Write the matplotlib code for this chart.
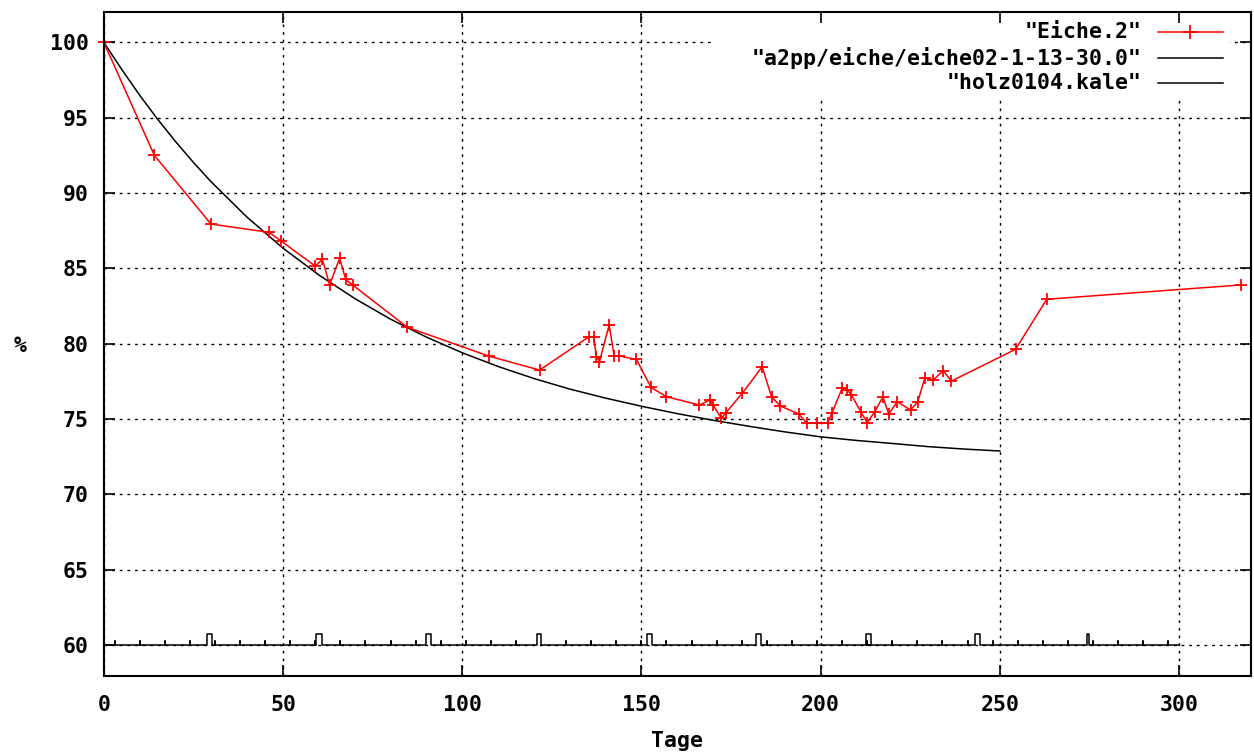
import matplotlib
matplotlib.use("Agg")
import matplotlib.pyplot as plt
from matplotlib.patches import Rectangle
from matplotlib.lines import Line2D

# ---------------- data ----------------
eiche_days = [0, 14.1, 29.9, 46.1, 49.5, 59.0, 61.0, 63.0, 65.8, 67.5, 69.4, 84.7,
              107.4, 121.6, 135.3, 136.7, 137.4, 138.3, 141.0, 142.4, 143.8, 148.6,
              152.7, 157.0, 166.2, 169.1, 170.0, 172.3, 173.5, 178.1, 183.7, 186.3,
              188.8, 193.9, 196.2, 199.0, 202.0, 203.2, 206.0, 207.4, 208.6, 211.3,
              213.0, 215.1, 217.4, 219.0, 221.4, 225.1, 227.1, 229.1, 231.4, 234.2,
              236.5, 254.4, 263.1, 317.4]
eiche_vals = [100.0, 92.5, 87.94, 87.39, 86.81, 85.15, 85.6, 83.9, 85.67, 84.27, 83.9, 81.09,
              79.18, 78.25, 80.45, 80.45, 79.14, 78.81, 81.24, 79.18, 79.18, 78.96,
              77.1, 76.48, 75.93, 76.27, 75.93, 75.05, 75.4, 76.7, 78.47, 76.48,
              75.86, 75.34, 74.72, 74.72, 74.76, 75.42, 77.04, 76.93, 76.6, 75.45,
              74.76, 75.49, 76.48, 75.34, 76.15, 75.6, 76.15, 77.74, 77.59, 78.21,
              77.52, 79.63, 82.95, 83.9]

a2pp_days = [0, 5, 10, 15, 20, 25, 30, 40, 50, 60, 70, 80, 90, 100, 110, 120, 130,
             140, 150, 160, 170, 180, 190, 200, 210, 220, 230, 240, 250]
a2pp_vals = [100.0, 98.2, 96.49, 94.9, 93.42, 92.03, 90.73, 88.39, 86.34, 84.56,
             83.0, 81.63, 80.44, 79.4, 78.49, 77.69, 76.99, 76.39, 75.85, 75.36,
             74.92, 74.52, 74.15, 73.82, 73.58, 73.38, 73.17, 73.01, 72.88]

holz_base = 60.0
holz_start, holz_end = 0, 300
holz_week_days = [3, 10, 17, 24, 31, 38, 45, 52, 59, 66, 73, 80, 87, 94, 101, 108,
                  115, 122, 129, 136, 143, 150, 157, 164, 171, 178, 185, 192, 199,
                  206, 213, 220, 227, 234, 241, 248, 255, 262, 269, 276, 283, 290, 297]
holz_week_val = 60.3
holz_month_start = [28.8, 59.2, 89.8, 121.0, 151.5, 182.0, 212.8, 243.0, 274.2]
holz_month_end = [30.3, 60.8, 91.2, 122.0, 152.9, 183.3, 214.0, 244.4, 275.0]
holz_month_val = 60.75

x_ticks = [0, 50, 100, 150, 200, 250, 300]
y_ticks = [60, 65, 70, 75, 80, 85, 90, 95, 100]
labels = ['"Eiche.2"', '"a2pp/eiche/eiche02-1-13-30.0"', '"holz0104.kale"']

# build the holz step path from the event lists
events = [(d, 'w', d) for d in holz_week_days] + \
         [(s, 'm', e) for s, e in zip(holz_month_start, holz_month_end)]
events.sort()
hx, hy = [holz_start], [holz_base]
for s, kind, e in events:
    if kind == 'w':
        hx += [s, s, s]
        hy += [holz_base, holz_week_val, holz_base]
    else:
        hx += [s, s, e, e]
        hy += [holz_base, holz_month_val, holz_month_val, holz_base]
hx.append(holz_end)
hy.append(holz_base)

# ---------------- figure ----------------
W, H = 1254, 756
fig = plt.figure(figsize=(W / 100, H / 100), dpi=100)
L, R, T, B = 103.8, 1250.7, 11.7, 675.7
ax = fig.add_axes([L / W, 1 - B / H, (R - L) / W, (B - T) / H])
ax.set_xlim(0, 320)
ax.set_ylim(57.97, 102.03)

font = dict(family=['DejaVu Sans Mono'], weight='bold', size=15.5)

# dotted grid
for xv in x_ticks:
    ax.axvline(xv, color='black', lw=1.0, ls=(0, (2, 3.5)), zorder=0.2)
for yv in y_ticks:
    ax.axhline(yv, color='black', lw=1.0, ls=(0, (2, 3.5)), zorder=0.2)

# legend background box (opaque, no border)
ax.add_patch(Rectangle((0.53, 0.872), 0.452, 0.126, transform=ax.transAxes,
                       facecolor='white', edgecolor='none', zorder=0.3))

ax.plot(a2pp_days, a2pp_vals, color='black', lw=1.1, zorder=2)
ax.plot(hx, hy, color='black', lw=1.1, zorder=2)
ax.plot(eiche_days, eiche_vals, color='#ff0000', lw=1.1, marker='+',
        markersize=8.5, markeredgewidth=1.3, zorder=3, clip_on=False)

# legend drawn manually (right-aligned text, sample to the right)
rows = [0.969, 0.930, 0.892]
colors = ['#ff0000', 'black', 'black']
for i, (lab, yy, c) in enumerate(zip(labels, rows, colors)):
    ax.text(0.905, yy, lab, transform=ax.transAxes, ha='right', va='center',
            zorder=4, **font)
    ax.add_line(Line2D([0.919, 0.976], [yy, yy], transform=ax.transAxes,
                       color=c, lw=1.1, zorder=4))
    if i == 0:
        ax.add_line(Line2D([0.9475], [yy], transform=ax.transAxes, color=c,
                           marker='+', markersize=10, markeredgewidth=1.3,
                           lw=0, zorder=4))

ax.set_xticks(x_ticks)
ax.set_yticks(y_ticks)
ax.set_xticklabels([str(v) for v in x_ticks], **font)
ax.set_yticklabels([str(v) for v in y_ticks], **font)
ax.tick_params(axis='both', direction='in', length=8, width=1.2,
               top=True, right=True)
ax.tick_params(axis='x', pad=14)
ax.tick_params(axis='y', pad=11)
for sp in ax.spines.values():
    sp.set_linewidth(1.5)
    sp.set_zorder(5)

ax.set_xlabel('Tage', **font)
ax.set_ylabel('%', rotation=0, **font)
ax.xaxis.set_label_coords(0.5, -0.0983)
ax.xaxis.label.set_va('center')
ax.yaxis.set_label_coords(-0.0733, 0.4966)
ax.yaxis.label.set_va('center')
ax.yaxis.label.set_ha('center')

fig.savefig('out.png', dpi=100)
